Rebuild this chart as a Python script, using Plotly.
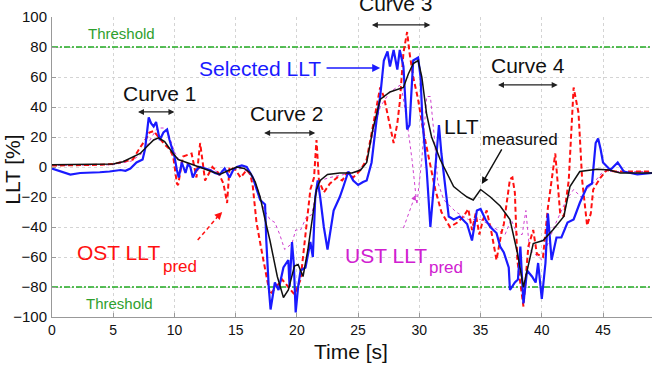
import plotly.graph_objects as go

# ---------------- data ----------------
t_meas = [0, 2, 4, 5, 5.8, 6.5, 7.2, 7.8, 8.3, 8.7, 9.2, 9.8, 10.3, 11, 12, 13, 13.7, 14.5, 15.1, 15.7,
          16.2, 16.6, 17, 17.4, 17.8, 18.4, 18.9, 19.3, 19.8, 20.1, 20.5, 20.9, 21.3, 21.6, 21.9, 22.5,
          23.5, 24.5, 25.2, 25.7, 26.2, 26.8, 27.6, 28.7, 29.1, 29.5, 29.9, 30.2, 30.6, 31, 31.7, 32.3,
          32.8, 33.4, 33.9, 34.4, 35, 35.8, 36.6, 37.4, 38, 38.5, 38.9, 39.3, 40.1, 40.9, 41.8, 42.3,
          43.1, 44.5, 45.5, 46.4, 49]
llt_meas = [1.5, 1.5, 1.5, 2, 3.5, 6, 9, 14, 18, 19.5, 17, 10, 5, 3, 0, -3, -5, -2, 0, -1,
            -4, -10, -20, -35, -49, -73, -87, -82, -66, -65, -73, -55, -31, -15, -9, -5,
            -4, -4, -2, 3, 25, 45, 50, 53, 62, 69, 71, 60, 35, 20, 5, -5,
            -13, -17, -20, -22, -15, -20, -26, -35, -57, -80, -65, -51, -49, -42, -33, -13,
            -3, -1.5, -2, -4, -4]

t_sel = [0, 0.8, 1.5, 2.3, 3.1, 3.9, 4.7, 5.6, 6, 6.4, 6.9, 7.4, 7.6, 7.8, 7.9, 8.1, 8.3, 8.5, 8.8, 9.1,
         9.4, 9.6, 10, 10.2, 10.35, 10.6, 10.9, 11.1, 11.3, 11.5, 11.8, 12.1, 12.5, 12.9, 13.3, 13.7,
         14.1, 14.5, 14.8, 15.1, 15.5, 15.9, 16.4, 17, 17.4, 17.5, 17.7, 17.85, 18.2, 18.5, 18.9, 19.3,
         19.4, 19.6, 19.75, 19.9, 20.1, 20.3, 20.7, 21.1, 21.3, 21.5, 21.7, 21.9, 22.2, 22.5, 23, 23.5,
         23.8, 24.2, 24.6, 25, 25.4, 25.7, 26.1, 26.5, 26.8, 27.1, 27.4, 27.6, 27.9, 28.2, 28.4, 28.7,
         28.85, 29, 29.2, 29.5, 29.9, 30.1, 30.25, 30.6, 30.9, 31.2, 31.6, 31.8, 32.1, 32.4, 32.8, 33.3,
         33.9, 34.3, 34.7, 35, 35.4, 35.8, 36.3, 36.6, 36.9, 37.3, 37.4, 37.8, 38.05, 38.25, 38.5, 38.8,
         39.2, 39.5, 39.7, 40, 40.3, 40.5, 40.8, 41.2, 41.6, 42.1, 42.6, 43.1, 43.7, 44.1, 44.4, 44.6,
         44.8, 45, 45.6, 46.2, 46.7, 47.8, 49]
llt_sel = [-1, -3, -5, -4, -4, -3.5, -3, -2, -2.5, -1, 3, 5, 12, 25, 33, 29, 27, 30, 18, 23,
           25, 18, 7, -2, -7, 3, -4, 2, 0, -7, -2, 0, -1, -2, -4, -5,
           -1, -7, -2, 0, 1, 0, -7, -22, -25, -49, -80, -95, -77, -82, -67, -62,
           -80, -50, -65, -97, -80, -69, -67, -50, -60, -20, -9, -20, -40, -55, -29, -20,
           -13, -3, -9, -12, -10, -9, 3, 31, 47, 71, 77, 67, 78, 65, 78, 67,
           45, 25, 28, 71, 73, 60, 31, -2, -40, -13, 28, 9, -13, -33, -35, -33,
           -38, -49, -29, -28, -35, -40, -44, -53, -57, -67, -82, -77, -75, -53, -91, -69,
           -73, -77, -64, -88, -64, -31, -62, -47, -47, -37, -35, -24, -13, -11, 16, 19,
           12, 3, -2, 3, -3, -5, -4]

t_ost = [0, 2, 4, 5, 6, 6.6, 7.2, 7.7, 7.95, 8.3, 8.7, 9.2, 9.6, 9.9, 10.2, 10.3, 10.7, 11.0, 11.4, 11.8,
         12.1, 12.5, 13.1, 13.6, 14, 14.3, 14.5, 15, 15.4, 15.9, 16.2, 16.4, 16.7, 17.1, 17.5, 17.8,
         18.3, 18.8, 19.3, 19.8, 20.3, 20.7, 21.1, 21.4, 21.6, 21.8, 22.2, 22.7, 23.3, 23.7, 24.1, 24.6,
         25.2, 25.7, 26.2, 26.5, 26.8, 27.1, 27.4, 27.6, 27.9, 28.2, 28.4, 28.7, 29, 29.2, 29.5, 29.9,
         30.3, 30.8, 31.3, 31.8, 32.5, 33.1, 33.6, 34, 34.3, 34.6, 34.9, 35.2, 35.5, 35.9, 36.3, 36.7,
         36.9, 37.2, 37.4, 37.6, 37.8, 38, 38.5, 38.9, 39.3, 39.6, 40.1, 40.5, 41.1, 41.5, 41.8, 42.2,
         42.6, 43, 43.3, 43.7, 44, 44.2, 44.8, 45.3, 46, 47, 49]
llt_ost = [1, 1, 1.5, 2, 4, 5, 13, 19, 23, 24, 20, 15, 12, 7, -11, -12, 7, 8, 9, -7,
           16, -9, 0, -4, -11, -24, 0, -2, -7, -2, -5, -13, -37, -55, -73, -85,
           -80, -75, -80, -85, -75, -45, -15, -7, 18, -9, -17, -11, -7, -9, -4, -7,
           -2, 5, 27, 40, 53, 47, 36, 27, 16, 29, 43, 76, 90, 76, 60, 45,
           25, 5, -15, -30, -40, -37, -33, -28, -42, -31, -45, -35, -29, -44, -62, -44,
           -38, -20, -8, -7, -17, -62, -93, -53, -42, -58, -60, -27, 9, -31, -33, -9,
           53, 36, -9, -39, -31, -15, -7, -2, -3, -3, -3]

t_ust = [0, 5, 6.5, 7.5, 8, 8.6, 9.2, 9.6, 10, 10.5, 11.5, 12.5, 13.5, 14.5, 15.5, 16.2, 16.8, 17.3,
         17.8, 18.2, 18.6, 19, 19.6, 19.9, 20.3, 20.8, 21.2, 21.5, 21.9, 22.7, 24, 25, 25.7, 26.2,
         26.8, 27.6, 28.5, 29, 29.4, 29.8, 30.2, 30.6, 30.9, 31.2, 31.5, 32, 33, 34, 35, 36, 37,
         37.5, 38, 38.4, 38.7, 39, 40, 41, 42, 42.6, 43.2, 43.8, 44.4, 45, 49]
llt_ust = [1, 1.5, 4, 10, 18, 26, 26, 20, 10, 3, 2, -1, -3, -2, -1, -4, -15, -28,
           -35, -37, -45, -55, -51, -42, -42, -33, -32, -20, -9, -7, -5, -3, 3, 22,
           40, 50, 55, 30, 5, -25, 5, 47, 47, 22, -10, -22, -30, -35, -35, -40, -45,
           -35, -45, -45, -29, -55, -62, -40, -22, -15, -20, -14, -9, -3, -3]

threshold = 80
x_ticks = [0, 5, 10, 15, 20, 25, 30, 35, 40, 45]
y_ticks = [-100, -80, -60, -40, -20, 0, 20, 40, 60, 80, 100]

# ---------------- figure ----------------
FONT = "Liberation Sans, Arial, sans-serif"
GREEN = "#2ea02e"
fig = go.Figure()

for lvl in (threshold, -threshold):
    fig.add_trace(go.Scatter(x=[0, 49], y=[lvl, lvl], mode="lines",
                             line=dict(color="#22aa22", width=1.6, dash="6px,2px,2px,2px"),
                             hoverinfo="skip"))

fig.add_trace(go.Scatter(x=t_ust, y=llt_ust, mode="lines", name="UST",
                         line=dict(color="#d040d0", width=1, dash="dot")))
fig.add_trace(go.Scatter(x=t_ost, y=llt_ost, mode="lines", name="OST",
                         line=dict(color="#ff1010", width=2, dash="5px,3px")))
fig.add_trace(go.Scatter(x=t_sel, y=llt_sel, mode="lines", name="Selected",
                         line=dict(color="#1a1aff", width=2.2)))
fig.add_trace(go.Scatter(x=t_meas, y=llt_meas, mode="lines", name="Measured",
                         line=dict(color="#111111", width=1.5)))

ann = []
def txt(x, y, s, size, color, xanchor="center", yref="y", **kw):
    ann.append(dict(x=x, y=y, xref="x", yref=yref, text=s, showarrow=False,
                    font=dict(family=FONT, size=size, color=color),
                    xanchor=xanchor, yanchor="middle", **kw))

def arrow(x0, y0, x1, y1, color, both=False, width=1.2):
    ann.append(dict(x=x1, y=y1, ax=x0, ay=y0, xref="x", yref="y", axref="x", ayref="y",
                    text="", showarrow=True, arrowhead=2, arrowsize=1, arrowwidth=width,
                    arrowcolor=color, arrowside="end+start" if both else "end",
                    standoff=0, startstandoff=0))

txt(5.7, 89.3, "Threshold", 15, GREEN)
txt(5.5, -91.3, "Threshold", 15, GREEN)

txt(8.8, 48.7, "Curve 1", 21, "#111")
arrow(6.9, 36.7, 10.0, 36.7, "#222", both=True)
txt(19.2, 36.0, "Curve 2", 21, "#111")
arrow(17.2, 22.7, 21.5, 22.7, "#222", both=True)
txt(28.1, 1.045, "Curve 3", 21, "#111", yref="paper")
arrow(26.0, 94.7, 30.9, 94.7, "#222", both=True)
txt(38.9, 68.0, "Curve 4", 21, "#111")
arrow(36.3, 54.7, 41.3, 54.7, "#222", both=True)

txt(17.0, 66.0, "Selected LLT", 21, "#1a1aff")
arrow(22.3, 66.0, 26.8, 66.0, "#1a1aff", width=1.6)

txt(33.46, 26.7, "LLT", 21, "#111")
txt(38.2, 18.5, "measured", 17, "#111")
arrow(36.8, 12.7, 35.1, -11.3, "#111", width=1.4)

txt(5.39, -56.7, "OST LLT", 21, "#ff1010")
txt(10.46, -66.0, "pred", 17, "#ff1010")
fig.add_shape(type="line", x0=11.9, y0=-48.7, x1=13.5, y1=-33.4,
              line=dict(color="#ff1010", width=1.5, dash="4px,3px"))
arrow(13.5, -33.4, 13.9, -30.0, "#ff1010", width=1.5)

txt(27.3, -58.7, "UST LLT", 21, "#d020d0")
txt(32.2, -67.3, "pred", 17, "#d020d0")
fig.add_shape(type="line", x0=28.7, y0=-40.7, x1=29.55, y1=-21.5,
              line=dict(color="#d040d0", width=1, dash="dot"))
arrow(29.55, -21.5, 29.7, -18.7, "#d040d0", width=1)

# axis titles
ann.append(dict(x=24.4, y=-0.115, xref="x", yref="paper", text="Time [s]", showarrow=False,
                font=dict(family=FONT, size=21, color="#111"), xanchor="center", yanchor="middle"))
ann.append(dict(x=-0.067, y=0.49, xref="paper", yref="paper", text="LLT [%]", showarrow=False,
                textangle=-90, font=dict(family=FONT, size=21, color="#111"),
                xanchor="center", yanchor="middle"))

fig.update_layout(
    width=652, height=372,
    margin=dict(l=52, r=0, t=17, b=55),
    paper_bgcolor="white", plot_bgcolor="white",
    showlegend=False,
    annotations=ann,
    font=dict(family=FONT, size=15, color="#111"),
    xaxis=dict(range=[0, 49], tickvals=x_ticks, showgrid=True, gridcolor="#d4d4d4",
               griddash="dot", gridwidth=1, showline=True, linecolor="#999", linewidth=1,
               ticks="inside", ticklen=4, tickcolor="#999", zeroline=False,
               tickfont=dict(size=14, color="#111"), ticklabelstandoff=0),
    yaxis=dict(range=[-100, 100], tickvals=y_ticks, showgrid=True, gridcolor="#d4d4d4",
               griddash="dot", gridwidth=1, showline=True, linecolor="#999", linewidth=1,
               ticks="inside", ticklen=4, tickcolor="#999", zeroline=False,
               tickfont=dict(size=15, color="#111"), ticklabelstandoff=1),
)

fig.write_html("out.html")
